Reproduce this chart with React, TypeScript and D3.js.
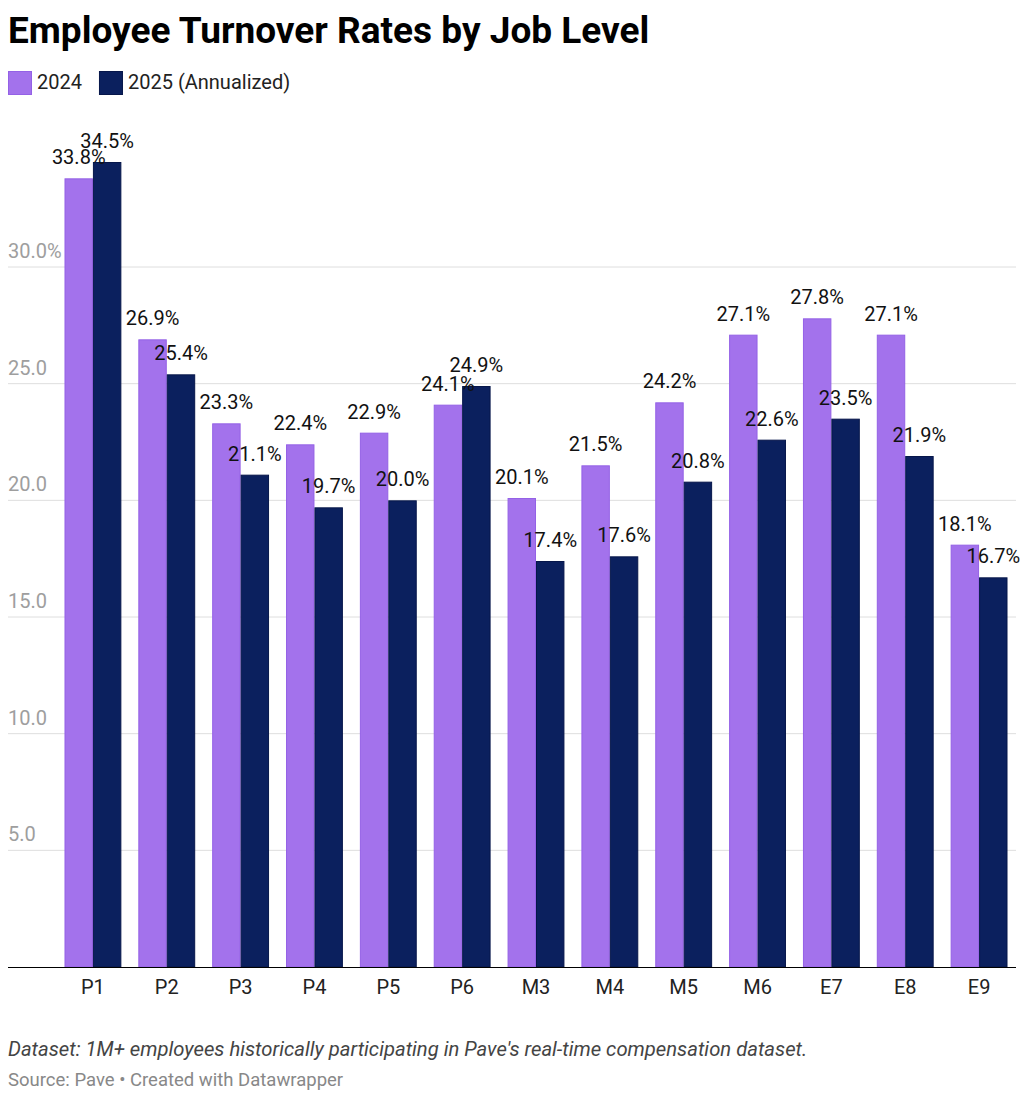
import { useEffect, useRef } from "react"
import * as d3 from "d3"

const levels = ["P1", "P2", "P3", "P4", "P5", "P6", "M3", "M4", "M5", "M6", "E7", "E8", "E9"]
const rates2024 = [33.8, 26.9, 23.3, 22.4, 22.9, 24.1, 20.1, 21.5, 24.2, 27.1, 27.8, 27.1, 18.1]
const rates2025 = [34.5, 25.4, 21.1, 19.7, 20.0, 24.9, 17.4, 17.6, 20.8, 22.6, 23.5, 21.9, 16.7]
const seriesNames = ["2024", "2025 (Annualized)"]
const yTicks = [5, 10, 15, 20, 25, 30]

const FONT = "Roboto, 'Noto Sans', sans-serif"
const fills = ["#a372ec", "#0b205e"]
const strokes = ["#9461e6", "#06164a"]

export default function App() {
  const svgRef = useRef<SVGSVGElement>(null)

  useEffect(() => {
    document.body.style.margin = "0"
    if (!svgRef.current) return
    const svg = d3.select(svgRef.current)
    svg.selectAll("*").remove()

    const left = 8
    const right = 1016
    const top = 267
    const bottom = 967

    // Title
    svg
      .append("text")
      .attr("x", left)
      .attr("y", 43)
      .attr("font-family", FONT)
      .attr("font-weight", 700)
      .attr("font-size", "37px")
      .attr("fill", "#000")
      .text("Employee Turnover Rates by Job Level")

    // Legend
    const legend = svg.append("g").attr("transform", `translate(${left}, 71)`)
    let lx = 0
    seriesNames.forEach((name, i) => {
      const row = legend.append("g").attr("transform", `translate(${lx}, 0)`)
      row
        .append("rect")
        .attr("x", 0.5)
        .attr("y", 0.5)
        .attr("width", 23)
        .attr("height", 23)
        .attr("fill", fills[i])
        .attr("stroke", strokes[i])
      const t = row
        .append("text")
        .attr("x", 29)
        .attr("y", 18)
        .attr("font-family", FONT)
        .attr("font-size", "20px")
        .attr("fill", "#222")
        .text(name)
      const w = (t.node() as SVGTextElement).getComputedTextLength()
      lx += 29 + w + 17
    })

    // Scales
    const x = d3.scaleBand<string>().domain(levels).range([56, right]).paddingInner(0.23).paddingOuter(0.115)
    const x1 = d3.scaleBand<string>().domain(seriesNames).range([0, x.bandwidth()])
    const y = d3.scaleLinear().domain([0, 30]).range([bottom, top])

    // Grid
    const grid = svg.append("g")
    yTicks.forEach((t) => {
      grid
        .append("line")
        .attr("x1", left)
        .attr("x2", right)
        .attr("y1", y(t))
        .attr("y2", y(t))
        .attr("stroke", "#dedede")
        .attr("stroke-width", 1)
      grid
        .append("text")
        .attr("x", left)
        .attr("y", y(t) - 9)
        .attr("font-family", FONT)
        .attr("font-size", "20px")
        .attr("fill", "#9e9e9e")
        .text(t === 30 ? `${t.toFixed(1)}%` : t.toFixed(1))
    })

    // Bars
    const data = levels.map((lvl, i) => ({ lvl, values: [rates2024[i], rates2025[i]] }))
    const groups = svg
      .selectAll("g.group")
      .data(data)
      .join("g")
      .attr("class", "group")
      .attr("transform", (d) => `translate(${x(d.lvl)}, 0)`)

    groups
      .selectAll("rect")
      .data((d) => d.values.map((v, i) => ({ v, i })))
      .join("rect")
      .attr("x", (d) => x1(seriesNames[d.i])! + 0.5)
      .attr("y", (d) => y(d.v) + 0.5)
      .attr("width", x1.bandwidth() - 1)
      .attr("height", (d) => bottom - y(d.v) - 0.5)
      .attr("fill", (d) => fills[d.i])
      .attr("stroke", (d) => strokes[d.i])
      .attr("stroke-width", 1)

    // Value labels (they overlap neighbours in the original too)
    groups
      .selectAll("text.value")
      .data((d) => d.values.map((v, i) => ({ v, i })))
      .join("text")
      .attr("class", "value")
      .attr("x", (d) => x1(seriesNames[d.i])! + x1.bandwidth() / 2)
      .attr("y", (d) => y(d.v) - 14)
      .attr("text-anchor", "middle")
      .attr("font-family", FONT)
      .attr("font-size", "20px")
      .attr("fill", "#111")
      .text((d) => `${d.v.toFixed(1)}%`)

    // Baseline
    svg
      .append("line")
      .attr("x1", left)
      .attr("x2", right)
      .attr("y1", bottom + 0.5)
      .attr("y2", bottom + 0.5)
      .attr("stroke", "#000")
      .attr("stroke-width", 1.2)

    // X labels
    svg
      .append("g")
      .selectAll("text")
      .data(levels)
      .join("text")
      .attr("x", (d) => x(d)! + x.bandwidth() / 2)
      .attr("y", 994)
      .attr("text-anchor", "middle")
      .attr("font-family", FONT)
      .attr("font-size", "20px")
      .attr("fill", "#222")
      .text((d) => d)

    // Footer
    svg
      .append("text")
      .attr("x", left)
      .attr("y", 1056)
      .attr("font-family", FONT)
      .attr("font-style", "italic")
      .attr("font-size", "20.25px")
      .attr("fill", "#444")
      .text("Dataset: 1M+ employees historically participating in Pave's real-time compensation dataset.")

    svg
      .append("text")
      .attr("x", left)
      .attr("y", 1086)
      .attr("font-family", FONT)
      .attr("font-size", "18.5px")
      .attr("fill", "#888")
      .text("Source: Pave • Created with Datawrapper")
  }, [])

  return <svg ref={svgRef} width={1024} height={1100} style={{ display: "block", background: "#fff" }} />
}
